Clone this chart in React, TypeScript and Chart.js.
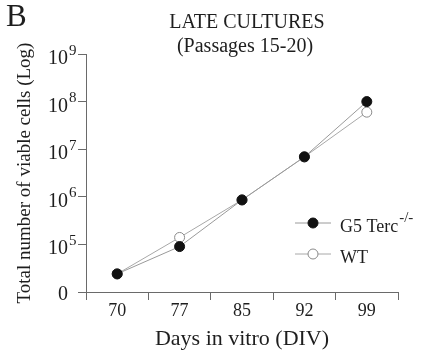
import { useEffect, useRef } from 'react';
import { Chart, registerables } from 'chart.js';

Chart.register(...registerables);

const days = ['70', '77', '85', '92', '99'];
const g5Values = [2.4e4, 9.0e4, 8.6e5, 6.9e6, 1.0e8];
const wtValues = [2.4e4, 1.4e5, 8.6e5, 6.9e6, 6.0e7];
const yTickValues = [1e4, 1e5, 1e6, 1e7, 1e8, 1e9];
const yTickBase = ['0', '10', '10', '10', '10', '10'];
const yTickSup = ['', '5', '6', '7', '8', '9'];
const titleLines = ['LATE CULTURES', '(Passages 15-20)'];
const panelLetter = 'B';
const legendNames = ['G5 Terc', 'WT'];
const legendSups = ['-/-', ''];

const SERIF = '"Liberation Serif", "Times New Roman", serif';
const TEXT = '#1e1e1e';
const AXIS = '#6a6a6a';
const LINE_G5 = '#9a9a9a';
const LINE_WT = '#a8a8a8';

const decorPlugin = {
  id: 'decor',
  afterDraw(chart: any) {
    const ctx: CanvasRenderingContext2D = chart.ctx;
    const ys = chart.scales.y;
    const area = chart.chartArea;
    ctx.save();
    ctx.fillStyle = TEXT;
    // y tick labels with superscripts
    yTickValues.forEach((v, i) => {
      const py = ys.getPixelForValue(v);
      ctx.font = `20px ${SERIF}`;
      ctx.textAlign = 'right';
      ctx.textBaseline = 'alphabetic';
      if (yTickSup[i]) {
        ctx.fillText(yTickBase[i], 68, py + 10);
        ctx.font = `15px ${SERIF}`;
        ctx.textAlign = 'left';
        ctx.fillText(yTickSup[i], 69, py + 0.5);
      } else {
        ctx.fillText(yTickBase[i], 68, py + 8);
      }
    });
    // panel letter
    ctx.font = `31px ${SERIF}`;
    ctx.textAlign = 'left';
    ctx.fillText(panelLetter, 6, 26);
    // title
    const cx = (area.left + area.right) / 2 + 5;
    ctx.font = `20px ${SERIF}`;
    ctx.textAlign = 'center';
    ctx.fillText(titleLines[0], cx, 28);
    ctx.fillText(titleLines[1], cx - 2, 52);
    // legend
    const rows = [
      { y: 223, fill: '#111111', stroke: '#111111', line: LINE_G5 },
      { y: 254, fill: '#ffffff', stroke: '#8a8a8a', line: LINE_WT },
    ];
    rows.forEach((r, i) => {
      ctx.strokeStyle = r.line;
      ctx.lineWidth = 1;
      ctx.beginPath();
      ctx.moveTo(295, r.y);
      ctx.lineTo(331, r.y);
      ctx.stroke();
      ctx.beginPath();
      ctx.arc(313, r.y, 5, 0, Math.PI * 2);
      ctx.fillStyle = r.fill;
      ctx.fill();
      ctx.strokeStyle = r.stroke;
      ctx.stroke();
      ctx.fillStyle = TEXT;
      ctx.font = `18px ${SERIF}`;
      ctx.textAlign = 'left';
      ctx.fillText(legendNames[i], 340, r.y + 9);
      if (legendSups[i]) {
        const w = ctx.measureText(legendNames[i]).width;
        ctx.font = `15px ${SERIF}`;
        ctx.fillText(legendSups[i], 340 + w + 1, r.y - 1);
      }
    });
    ctx.restore();
  },
};

export default function App() {
  const ref = useRef<HTMLCanvasElement | null>(null);
  useEffect(() => {
    if (!ref.current) return;
    const chart = new Chart(ref.current, {
      type: 'line',
      data: {
        labels: days,
        datasets: [
          {
            label: 'G5 Terc-/-',
            data: g5Values,
            borderColor: LINE_G5,
            borderWidth: 1,
            pointRadius: 5,
            pointBackgroundColor: '#111111',
            pointBorderColor: '#111111',
            pointBorderWidth: 1,
            tension: 0,
          },
          {
            label: 'WT',
            data: wtValues,
            borderColor: LINE_WT,
            borderWidth: 1,
            pointRadius: 5,
            pointBackgroundColor: '#ffffff',
            pointBorderColor: '#8a8a8a',
            pointBorderWidth: 1,
            tension: 0,
          },
        ],
      },
      options: {
        responsive: false,
        animation: false,
        layout: { padding: { top: 54, right: 30, left: 0, bottom: 0 } },
        plugins: {
          legend: { display: false },
          title: { display: false },
          tooltip: { enabled: false },
        },
        scales: {
          x: {
            type: 'category',
            offset: true,
            border: { color: AXIS, width: 1 },
            grid: { offset: true, drawOnChartArea: false, drawTicks: true, tickLength: 8, color: AXIS },
            ticks: { color: TEXT, font: { family: SERIF, size: 18 }, padding: 0 },
            title: {
              display: true,
              text: 'Days in vitro (DIV)',
              color: TEXT,
              font: { family: SERIF, size: 22 },
              padding: { top: 0, bottom: 2 },
            },
            afterFit: (s: any) => {
              s.height = 62;
            },
          },
          y: {
            type: 'logarithmic',
            min: 1e4,
            max: 1e9,
            border: { color: AXIS, width: 1 },
            grid: { drawOnChartArea: false, drawTicks: true, tickLength: 8, color: AXIS },
            afterBuildTicks: (s: any) => {
              s.ticks = yTickValues.map((v) => ({ value: v }));
            },
            ticks: { callback: () => '', padding: 0 },
            title: {
              display: true,
              text: 'Total number of viable cells (Log)',
              color: TEXT,
              font: { family: SERIF, size: 19 },
              padding: { top: 14, bottom: 0 },
            },
            afterFit: (s: any) => {
              s.width = 86;
            },
          },
        },
      },
      plugins: [decorPlugin],
    });
    return () => chart.destroy();
  }, []);
  return (
    <div style={{ position: 'fixed', left: 0, top: 0, width: 428, height: 354, background: '#fff' }}>
      <canvas ref={ref} width={428} height={354} style={{ display: 'block' }} />
    </div>
  );
}
